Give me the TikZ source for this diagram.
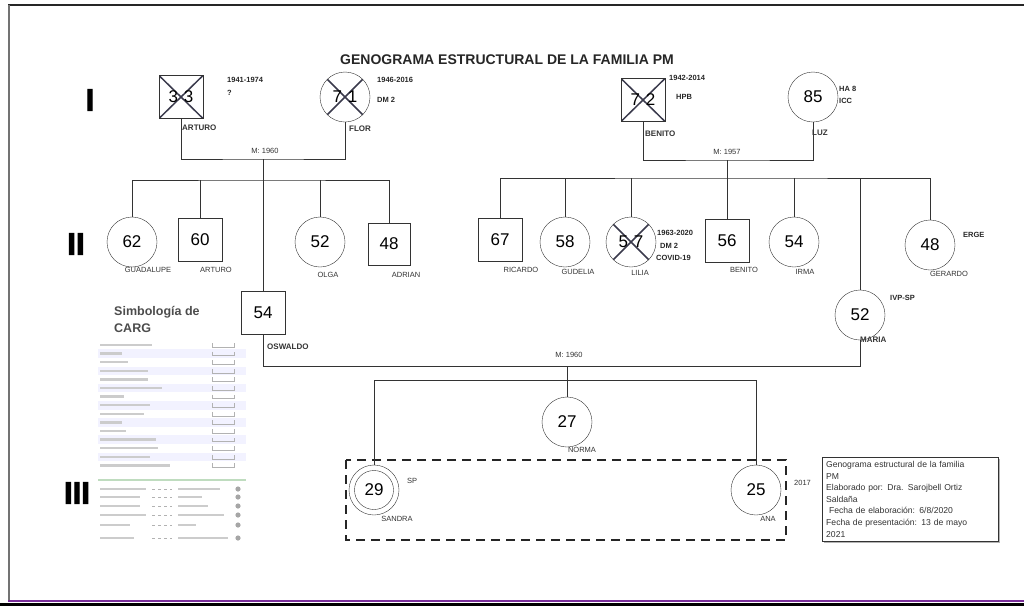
\documentclass[tikz,border=0pt]{standalone}
\usepackage{fontspec}
\setmainfont{Liberation Sans}
\newfontfamily\gruesa[FakeBold=3]{Liberation Sans Bold}
\usetikzlibrary{shadows}

\definecolor{cruz}{HTML}{3A3A4C}
\definecolor{marco}{HTML}{7A2E9A}
\newcommand{\cifra}{\fontsize{17}{17}\selectfont}

\tikzset{
  cuadro/.style={draw=black!80, minimum width=44pt, minimum height=43pt, inner sep=0pt, font=\cifra},
  circulo/.style={draw=black!80, circle, minimum size=50pt, inner sep=0pt, font=\cifra},
  muerto/.style={path picture={\draw[cruz, line width=1.5pt]
      (path picture bounding box.north west) -- (path picture bounding box.south east)
      (path picture bounding box.north east) -- (path picture bounding box.south west);}},
  linea/.style={line width=1pt, black!80},
  etiqueta/.style={font=\fontsize{7.5}{8}\selectfont, text=black!80, inner sep=0pt},
  nombreI/.style={font=\fontsize{8}{8}\selectfont\bfseries, text=black!80, inner sep=0pt, anchor=west},
  dato/.style={font=\fontsize{7.5}{8}\selectfont\bfseries, text=black!85, inner sep=0pt, anchor=west},
  gen/.style={font=\fontsize{31}{31}\selectfont\gruesa, inner sep=0pt},
}

\begin{document}
\begin{tikzpicture}[x=1pt, y=-1pt]
\useasboundingbox (0,0) rectangle (1024,606);

% Marco de la imagen
\draw[black!85, line width=2.5pt] (8,5) -- (1024,5);
\draw[black!55, line width=1.5pt] (9,5) -- (9,601);
\fill[black] (0,603) rectangle (1024,606);
\draw[marco, line width=1.5pt] (8,601) -- (1024,601);

% Titulo y generaciones
\node[font=\fontsize{14}{14}\selectfont\bfseries, text=black!85] (titulo) at (507,60) {GENOGRAMA ESTRUCTURAL DE LA FAMILIA PM};
\node[gen] (g1) at (90,100) {I};
\node[gen] (g2) at (76,244) {II};
\node[gen] (g3) at (77,493) {III};

% Generacion I: Arturo y Flor
\node[cuadro, muerto] (arturo) at (181,97) {3\hspace{6pt}3};
\node[dato] (fArturo) at (227,80) {1941-1974};
\node[dato] (dArturo) at (227,93) {?};
\node[nombreI] (nArturo) at (182,128) {ARTURO};
\node[circulo, muerto] (flor) at (345,97) {7\hspace{6pt}1};
\node[dato] (fFlor) at (377,80) {1946-2016};
\node[dato] (dFlor) at (377,100) {DM 2};
\node[nombreI] (nFlor) at (349,129) {FLOR};
\coordinate (m1) at (263,159);
\coordinate (h1) at (263,180);
\node[etiqueta] (mArturo) at (265,151) {M: 1960};

% Generacion I: Benito y Luz
\node[cuadro, muerto] (benito) at (643,100) {7\hspace{6pt}2};
\node[dato] (fBenito) at (669,78) {1942-2014};
\node[dato] (dBenito) at (676,97) {HPB};
\node[nombreI] (nBenito) at (645,134) {BENITO};
\node[circulo] (luz) at (813,97) {85};
\node[dato] (dLuz) at (839,89) {HA 8};
\node[dato] (eLuz) at (839,101) {ICC};
\node[nombreI] (nLuz) at (812,133) {LUZ};
\coordinate (m2) at (727,160);
\coordinate (h2) at (727,178);
\node[etiqueta] (mBenito) at (727,152) {M: 1957};

% Generacion II: hijos de Arturo y Flor
\node[circulo] (guadalupe) at (132,242) {62};
\node[cuadro] (arturoh) at (200,240) {60};
\node[circulo] (olga) at (320,242) {52};
\node[cuadro, minimum width=42pt, minimum height=42pt] (adrian) at (389,244) {48};
\node[cuadro] (oswaldo) at (263,313) {54};
\node[etiqueta] (nGuadalupe) at (148,270) {GUADALUPE};
\node[etiqueta] (nArturoh) at (216,270) {ARTURO};
\node[etiqueta] (nOlga) at (328,275) {OLGA};
\node[etiqueta] (nAdrian) at (406,275) {ADRIAN};
\node[nombreI] (nOswaldo) at (267,347) {OSWALDO};

% Generacion II: hijos de Benito y Luz
\node[cuadro] (ricardo) at (500,240) {67};
\node[circulo] (gudelia) at (565,242) {58};
\node[circulo, muerto] (lilia) at (631,242) {5\hspace{6pt}7};
\node[cuadro] (benitoh) at (727,241) {56};
\node[circulo] (irma) at (794,242) {54};
\node[circulo] (gerardo) at (930,245) {48};
\node[circulo] (maria) at (860,315) {52};
\node[etiqueta] (nRicardo) at (521,270) {RICARDO};
\node[etiqueta] (nGudelia) at (578,272) {GUDELIA};
\node[etiqueta] (nLilia) at (640,273) {LILIA};
\node[etiqueta] (nBenitoh) at (744,270) {BENITO};
\node[etiqueta] (nIrma) at (805,272) {IRMA};
\node[etiqueta] (nGerardo) at (949,274) {GERARDO};
\node[dato] (fLilia) at (657,233) {1963-2020};
\node[dato] (dLilia) at (660,246) {DM 2};
\node[dato] (eLilia) at (656,258) {COVID-19};
\node[dato] (dGerardo) at (963,235) {ERGE};
\node[dato] (dMaria) at (890,298) {IVP-SP};
\node[nombreI] (nMaria) at (860,340) {MARIA};
\coordinate (m3) at (567,366);
\coordinate (h3) at (567,380);
\node[etiqueta] (mOswaldo) at (569,355) {M: 1960};

% Generacion III
\node[circulo, path picture={\draw[black!80] (path picture bounding box.center) circle (19.5pt);}] (sandra) at (374,490) {29};
\node[circulo] (norma) at (567,422) {27};
\node[circulo] (ana) at (756,490) {25};
\node[etiqueta] (dSandra) at (412,481) {SP};
\node[etiqueta] (nSandra) at (397,519) {SANDRA};
\node[etiqueta] (nNorma) at (582,450) {NORMA};
\node[etiqueta] (nAna) at (768,519) {ANA};
\node[etiqueta, anchor=west] (fAna) at (794,483) {2017};
\draw[black!85, line width=2.2pt, dash pattern=on 9pt off 6pt] (346,460) rectangle (786,540);

% Lineas de union
\draw[linea] (arturo) |- (m1) -| (flor);
\draw[linea] (m1) -- (oswaldo);
\draw[linea] (guadalupe) |- (h1) -| (adrian);
\draw[linea] (arturoh) -- (arturoh |- h1);
\draw[linea] (olga) -- (olga |- h1);
\draw[linea] (benito) |- (m2) -| (luz);
\draw[linea] (m2) -- (benitoh);
\draw[linea] (ricardo) |- (h2) -| (gerardo);
\foreach \h in {gudelia,lilia,irma,maria}
  \draw[linea] (\h) -- (\h |- h2);
\draw[linea] (oswaldo) |- (m3) -| (maria);
\draw[linea] (m3) -- (norma);
\draw[linea] (sandra) |- (h3) -| (ana);

% Ficha del genograma
\node[draw=black!80, fill=white, drop shadow={shadow xshift=2pt, shadow yshift=-2pt, opacity=.6},
      anchor=north west, align=left, inner sep=4pt, text width=168pt,
      font=\fontsize{8.6}{11.6}\selectfont, text=black!80] (ficha) at (822,457)
  {Genograma estructural de la familia\\PM\\Elaborado por: Dra. Sarojbell Ortiz\\Saldaña\\
   \ Fecha de elaboración: 6/8/2020\\Fecha de presentación: 13 de mayo\\2021};

% Simbologia (renglones ilegibles)
\node[font=\fontsize{12.5}{13}\selectfont\bfseries, text=black!70, anchor=west, inner sep=0pt] (simb1) at (114,312) {Simbología de};
\node[font=\fontsize{12.5}{13}\selectfont\bfseries, text=black!70, anchor=west, inner sep=0pt] (simb2) at (114,328) {CARG};
\foreach \l [count=\i from 0] in {52,22,28,48,48,62,24,50,44,22,26,56,58,50,70} {
  \pgfmathsetmacro{\yy}{345+8.6*\i}
  \ifodd\i \fill[blue!5] (98,\yy-4.3) rectangle (246,\yy+4.3); \fi
  \fill[gray!40] (100,\yy-1.2) rectangle ++(\l,2.4);
  \draw[gray!60, line width=.6pt] (212,\yy-2) -- (212,\yy+2) -- (234,\yy+2) -- (234,\yy-2);
}
\fill[green!45!black!25] (98,478.8) rectangle (246,481.2);
\foreach \yy/\a/\b in {489/46/42, 497/40/24, 506/40/30, 515/46/46, 525/30/18, 538/34/50} {
  \fill[gray!40] (100,\yy-1.2) rectangle ++(\a,2.4);
  \draw[gray!60, line width=.7pt, dashed] (152,\yy) -- (172,\yy);
  \fill[gray!40] (178,\yy-1.2) rectangle ++(\b,2.4);
  \fill[gray!70] (238,\yy) circle (2.6pt);
}
\end{tikzpicture}
\end{document}
